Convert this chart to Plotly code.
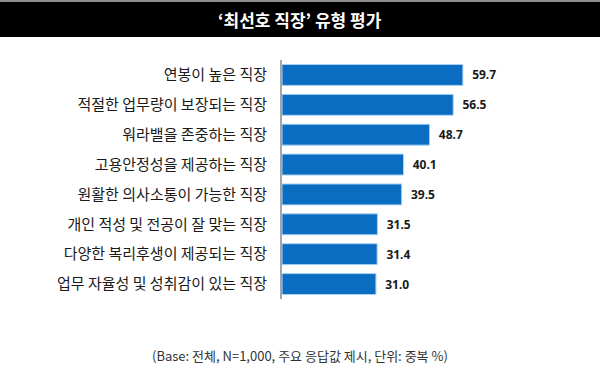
import plotly.graph_objects as go

categories = [
    "연봉이 높은 직장",
    "적절한 업무량이 보장되는 직장",
    "워라밸을 존중하는 직장",
    "고용안정성을 제공하는 직장",
    "원활한 의사소통이 가능한 직장",
    "개인 적성 및 전공이 잘 맞는 직장",
    "다양한 복리후생이 제공되는 직장",
    "업무 자율성 및 성취감이 있는 직장",
]
values = [59.7, 56.5, 48.7, 40.1, 39.5, 31.5, 31.4, 31.0]
title = "‘최선호 직장’ 유형 평가"
footnote = "(Base: 전체, N=1,000, 주요 응답값 제시, 단위: 중복 %)"

W, H = 600, 372
ml, mr, mt, mb = 282, 15, 60, 73
pw = W - ml - mr
ph = H - mt - mb

def px2x(px):
    return (px - ml) / pw

def py2y(py):
    return (H - mb - py) / ph

fig = go.Figure(go.Bar(
    x=values,
    y=categories,
    orientation="h",
    marker=dict(color="#0a6dc2", line=dict(color="#a9d3f5", width=1)),
    width=0.7,
    text=[f"{v:.1f}" for v in values],
    texttemplate="  <b>%{text}</b>",
    textposition="outside",
    cliponaxis=False,
    textfont=dict(family="Noto Sans", size=12, color="#1a1a1a"),
    hoverinfo="skip",
))

fig.update_layout(
    width=W, height=H,
    margin=dict(l=ml, r=mr, t=mt, b=mb),
    paper_bgcolor="white",
    plot_bgcolor="white",
    showlegend=False,
    bargap=0.3,
    xaxis=dict(range=[0, 100], visible=False, fixedrange=True),
    yaxis=dict(
        autorange="reversed", automargin=False, fixedrange=True,
        showline=True, linecolor="#a6a6a6", linewidth=2,
        ticks="", showgrid=False, zeroline=False,
        tickfont=dict(family="Noto Sans CJK KR", size=15, color="#1a1a1a"),
        ticklabelstandoff=10,
    ),
    shapes=[
        dict(type="rect", xref="paper", yref="paper",
             x0=px2x(-5), x1=px2x(605), y0=py2y(37), y1=py2y(2),
             fillcolor="black", line=dict(width=0), layer="above"),
        dict(type="rect", xref="paper", yref="paper",
             x0=px2x(-5), x1=px2x(605), y0=py2y(2), y1=py2y(-2),
             fillcolor="#8c8c8c", line=dict(width=0), layer="above"),
    ],
    annotations=[
        dict(text=f"<b>{title}</b>", xref="paper", yref="paper",
             x=px2x(300), y=py2y(19.5), xanchor="center", yanchor="middle",
             showarrow=False,
             font=dict(family="Noto Sans CJK KR", size=17, color="white")),
        dict(text=footnote, xref="paper", yref="paper",
             x=px2x(300), y=py2y(355), xanchor="center", yanchor="middle",
             showarrow=False,
             font=dict(family="Noto Sans CJK KR", size=13, color="#333333")),
    ],
)

fig.write_html("out.html",
               config={"displayModeBar": False, "staticPlot": True},
               post_script="document.body.style.margin='0px';document.body.style.overflow='hidden';")
